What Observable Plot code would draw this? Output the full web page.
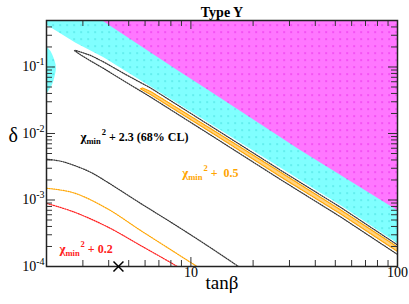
<!DOCTYPE html>
<html><head><meta charset="utf-8">
<script src="https://cdn.jsdelivr.net/npm/d3@7"></script>
<script src="https://cdn.jsdelivr.net/npm/@observablehq/plot@0.6"></script>
<style>body{margin:0;background:#fff;} svg{display:block;} svg text, svg tspan{font-family:"Liberation Serif","Times New Roman",Times,"DejaVu Serif",serif !important;}</style>
</head><body><div id="chart"></div>
<script>
// ---- text ----
const title = "Type Y";
const xLabel = "tanβ";
const yLabel = "δ";
const xTickLabels = [10, 100];
const yTickValues = [1e-4, 1e-3, 1e-2, 1e-1];
const yTickText = ["10|-4", "10|-3", "10|-2", "10|-1"];
const xMajorTicks = [10];
const xMinorTicks = [3, 4, 5, 6, 7, 8, 9, 20, 30, 40, 50, 60, 70, 80, 90];
const yMajorTicks = [1e-3, 1e-2, 1e-1];
const yMinorTicks = [2e-4, 3e-4, 4e-4, 5e-4, 6e-4, 7e-4, 8e-4, 9e-4,
  2e-3, 3e-3, 4e-3, 5e-3, 6e-3, 7e-3, 8e-3, 9e-3,
  2e-2, 3e-2, 4e-2, 5e-2, 6e-2, 7e-2, 8e-2, 9e-2, 0.2, 0.3, 0.4];

// ---- excluded regions ----
const magentaTan = [3.72, 8.58, 11.77, 33.9, 100, 100];
const magentaDelta = [0.5, 0.0903, 0.0479, 0.00562, 7.0e-4, 0.5];
const cyanTan = [2, 100, 100, 52.98, 27.14, 13.15, 6.374, 3.775, 2.764, 2];
const cyanDelta = [0.5, 0.5, 2.222e-4, 8.32e-4, 0.00306, 0.01249, 0.0510, 0.1396, 0.2310, 0.4315];
const blobTan = [2, 2.10, 2.18, 2.22, 2.19, 2.11, 2];
const blobDelta = [0.205, 0.170, 0.128, 0.100, 0.0734, 0.0519, 0.0400];

// ---- chi2 contours ----
const loopTan = [100, 52.98, 27.14, 13.15, 6.374, 4.825, 3.775, 3.266, 2.922, 2.764, 2.732, 2.764, 3.266, 3.775, 4.825, 6.374, 13.15, 27.14, 52.98, 100];
const loopDelta = [1.517e-4, 5.58e-4, 0.002031, 0.00852, 0.0354, 0.0596, 0.0953, 0.1236, 0.1523, 0.1719, 0.1755, 0.1780, 0.1496, 0.1194, 0.0773, 0.0484, 0.01165, 0.002805, 7.76e-4, 2.109e-4];
const halfTan = [5.702, 5.830, 6.374, 13.15, 27.14, 52.98, 100, 100, 52.98, 27.14, 13.15, 6.374, 5.830, 5.702];
const halfDelta = [0.0471, 0.0484, 0.0429, 0.01068, 0.002617, 7.12e-4, 1.968e-4, 1.683e-4, 6.19e-4, 0.002238, 0.00946, 0.0386, 0.0451, 0.0471];
const blackTan = [2, 2.338, 2.702, 3.266, 3.948, 5.702, 8.238, 11.77, 17.00];
const blackDelta = [0.004111, 0.003836, 0.003338, 0.002618, 0.001849, 8.91e-4, 4.375e-4, 2.147e-4, 1e-4];
const orangeTan = [2, 2.702, 3.948, 5.702, 8.238, 10.70];
const orangeDelta = [0.001501, 0.001284, 7.37e-4, 3.49e-4, 1.683e-4, 1e-4];
const redTan = [2, 2.702, 3.948, 5.702, 7.968, 8.58];
const redDelta = [8.91e-4, 6.64e-4, 3.94e-4, 2.073e-4, 1.149e-4, 1e-4];
const bestTan = [4.46];
const bestDelta = [1e-4];

// ---- labels ----
const chiRest = [" + 2.3 (68% CL)", " +  0.5", " + 0.2"];
const chiTan = [2.922, 9.08, 2.31];
const chiDelta = [0.0088, 0.00253, 1.837e-4];

const pts = (xs, ys) => xs.map((x, i) => ({x, y: ys[i]}));
const labels = chiRest.map((r, i) => ({x: chiTan[i], y: chiDelta[i], t: "χmin2" + r}));

const fh = 246, fw = 351;
const serif = "Liberation Serif, Times New Roman, DejaVu Serif, serif";
const dotted = {strokeWidth: 1.2, strokeDasharray: "1.2 1.2"};
const txt = {fill: "#000"};

const svg = Plot.plot({
  width: 409, height: 304,
  marginLeft: 46, marginRight: 12, marginTop: 20, marginBottom: 38,
  x: {type: "log", domain: [2, 100], axis: null},
  y: {type: "log", domain: [1e-4, 0.5], axis: null},
  style: {background: "white", overflow: "visible"},
  marks: [
    Plot.line(pts(cyanTan, cyanDelta), {x: "x", y: "y", fill: "url(#cyanDots)", stroke: "none", clip: true}),
    Plot.line(pts(magentaTan, magentaDelta), {x: "x", y: "y", fill: "url(#magDots)", stroke: "none", clip: true}),
    Plot.line(pts(blobTan, blobDelta), {x: "x", y: "y", fill: "url(#cyanDots)", stroke: "none", curve: "catmull-rom", clip: true}),
    Plot.line(pts(halfTan, halfDelta), {x: "x", y: "y", fill: "url(#orangeDots)", stroke: "#ffa500", strokeWidth: 1.2, strokeDasharray: "1 1", clip: true}),
    Plot.line(pts(loopTan, loopDelta), {x: "x", y: "y", stroke: "#333", ...dotted, clip: true}),
    Plot.line(pts(blackTan, blackDelta), {x: "x", y: "y", stroke: "#333", ...dotted, curve: "catmull-rom", clip: true}),
    Plot.line(pts(orangeTan, orangeDelta), {x: "x", y: "y", stroke: "#ffa500", ...dotted, curve: "catmull-rom", clip: true}),
    Plot.line(pts(redTan, redDelta), {x: "x", y: "y", stroke: "#ff2020", ...dotted, curve: "catmull-rom", clip: true}),
    // ticks
    Plot.tickX(xMinorTicks, {x: d => d, insetTop: fh - 6, stroke: "#333"}),
    Plot.tickX(xMinorTicks, {x: d => d, insetBottom: fh - 6, stroke: "#333"}),
    Plot.tickX(xMajorTicks, {x: d => d, insetTop: fh - 9, stroke: "#333"}),
    Plot.tickX(xMajorTicks, {x: d => d, insetBottom: fh - 9, stroke: "#333"}),
    Plot.tickY(yMinorTicks, {y: d => d, insetRight: fw - 6, stroke: "#333"}),
    Plot.tickY(yMinorTicks, {y: d => d, insetLeft: fw - 6, stroke: "#333"}),
    Plot.tickY(yMajorTicks, {y: d => d, insetRight: fw - 9, stroke: "#333"}),
    Plot.tickY(yMajorTicks, {y: d => d, insetLeft: fw - 9, stroke: "#333"}),
    Plot.frame({stroke: "#222", strokeWidth: 1.5}),
    Plot.dot(pts(bestTan, bestDelta), {x: "x", y: "y", symbol: "times", r: 4.6, stroke: "#000", strokeWidth: 1.5}),
    // tick labels
    Plot.text(xTickLabels, {x: d => d, frameAnchor: "bottom", dy: 10, text: d => String(d), fontSize: 14, ...txt}),
    Plot.text(yTickValues, {y: d => d, frameAnchor: "left", dx: -2, textAnchor: "end", text: (d, i) => yTickText[i], fontSize: 14, ...txt}),
    // axis titles
    Plot.text([xLabel], {frameAnchor: "bottom", dy: 22, text: d => d, fontSize: 19, ...txt}),
    Plot.text([yLabel], {frameAnchor: "left", dx: -38, dy: -8, text: d => d, fontSize: 20, ...txt}),
    Plot.text([title], {frameAnchor: "top", dy: -13, text: d => d, fontSize: 14, fontWeight: "bold", ...txt}),
    // chi labels
    Plot.text([labels[0]], {x: "x", y: "y", text: "t", textAnchor: "start", fontSize: 12, fontWeight: "bold", ...txt}),
    Plot.text([labels[1]], {x: "x", y: "y", text: "t", textAnchor: "start", fontSize: 12, fontWeight: "bold", fill: "#ffa500"}),
    Plot.text([labels[2]], {x: "x", y: "y", text: "t", textAnchor: "start", fontSize: 12, fontWeight: "bold", fill: "#ff2020"})
  ]
});
svg.style.fontFamily = serif;

const ns = "http://www.w3.org/2000/svg";
const defs = document.createElementNS(ns, "defs");
defs.innerHTML =
  '<pattern id="magDots" patternUnits="userSpaceOnUse" x="0" y="0" width="7" height="7">' +
  '<rect width="7" height="7" fill="#ff77ff"/><rect x="3" y="3" width="1.2" height="1.2" fill="#e010e0"/></pattern>' +
  '<pattern id="cyanDots" patternUnits="userSpaceOnUse" x="0" y="0" width="7" height="7">' +
  '<rect width="7" height="7" fill="#80ffff"/><rect x="3" y="3" width="1.2" height="1.2" fill="#30d0d0"/></pattern>' +
  '<pattern id="orangeDots" patternUnits="userSpaceOnUse" x="0" y="0" width="2" height="2">' +
  '<rect width="2" height="2" fill="#fff"/><rect x="0" y="0" width="1" height="1" fill="#ffa500"/><rect x="1" y="1" width="1" height="1" fill="#ffa500"/></pattern>';
svg.insertBefore(defs, svg.firstChild);

function mk(tag, s, attrs) {
  const e = document.createElementNS(ns, tag);
  e.textContent = s;
  for (const k in attrs) e.setAttribute(k, attrs[k]);
  return e;
}
svg.querySelectorAll("text").forEach(t => {
  t.setAttribute("font-family", serif);
  t.style.fontFamily = serif;
  const s = t.textContent;
  if (s.includes("|")) {
    const [base, exp] = s.split("|");
    t.textContent = "";
    t.appendChild(mk("tspan", base, {}));
    t.appendChild(mk("tspan", exp, {"font-size": "10", dy: "-6"}));
  } else if (s.startsWith("χmin2")) {
    const rest = s.slice(5);
    t.textContent = "";
    t.style.whiteSpace = "pre";
    t.appendChild(mk("tspan", "χ", {"font-size": "13"}));
    t.appendChild(mk("tspan", "min", {"font-size": "8.5", dy: "3"}));
    t.appendChild(mk("tspan", "2", {"font-size": "8.5", dy: "-9", dx: "1"}));
    t.appendChild(mk("tspan", rest, {dy: "6"}));
  }
});
document.getElementById("chart").appendChild(svg);
</script>
</body></html>
